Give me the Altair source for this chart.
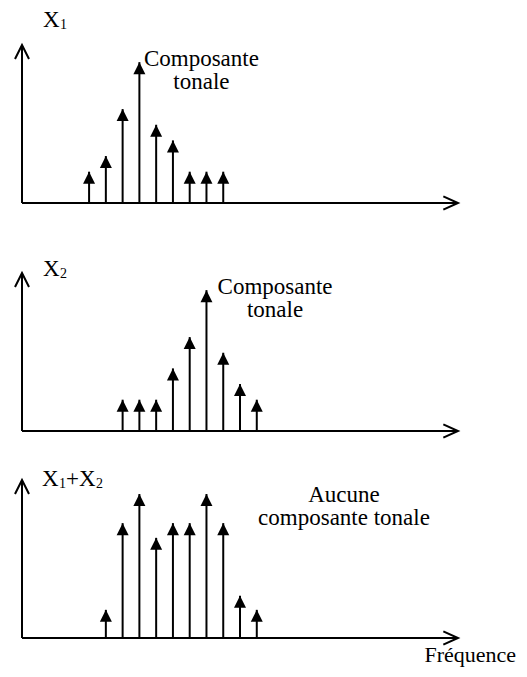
import altair as alt
import pandas as pd

# ---------------- data ----------------
# frequency bin index of each spectral line, and its amplitude (relative units)
X1_K = [4, 5, 6, 7, 8, 9, 10, 11, 12]
X1_A = [1.0, 1.5, 3.0, 4.5, 2.5, 2.0, 1.0, 1.0, 1.0]

X2_K = [6, 7, 8, 9, 10, 11, 12, 13, 14]
X2_A = [1.0, 1.0, 1.0, 2.0, 3.0, 4.5, 2.5, 1.5, 1.0]

SUM_K = [5, 6, 7, 8, 9, 10, 11, 12, 13, 14]
SUM_A = [0.9, 3.67, 4.6, 3.2, 3.67, 3.67, 4.6, 3.67, 1.35, 0.9]

PANELS = ["X1", "X2", "X1+X2"]
AXIS_END_K = 26      # length of the frequency axis (bins)
AXIS_TOP_A = 5.05    # length of the amplitude axis (units)

# ---------------- layout ----------------
W, H = 511, 661            # whole chart (padding 0)
PX_PER_K = 16.77           # horizontal pixels per frequency bin
PX_PER_A = 31.3            # vertical pixels per amplitude unit
ORIGIN_X_PX = 14           # y axis position from left edge
BASELINE_PX = [195, 423, 630]  # baselines of the three panels from top
OFFSET = {p: (H - b) / PX_PER_A for p, b in zip(PANELS, BASELINE_PX)}

xs = alt.Scale(domain=[-ORIGIN_X_PX / PX_PER_K, (W - ORIGIN_X_PX) / PX_PER_K], nice=False, zero=False)
ys = alt.Scale(domain=[0, H / PX_PER_A], nice=False, zero=False)

rows = []
for p, ks, As in zip(PANELS, [X1_K, X2_K, SUM_K], [X1_A, X2_A, SUM_A]):
    for k, a in zip(ks, As):
        rows.append({"panel": p, "k": k, "base": OFFSET[p], "top": OFFSET[p] + a})
lines = pd.DataFrame(rows)

axes = pd.DataFrame([
    {"panel": p, "x0": 0, "x1": AXIS_END_K, "base": OFFSET[p], "top": OFFSET[p] + AXIS_TOP_A}
    for p in PANELS
])

# annotations (position in bins / amplitude units relative to each panel's baseline)
single = pd.DataFrame([
    {"panel": "X1", "k": 1.25, "a": 5.62, "t": "X", "s": 23},
    {"panel": "X1", "k": 2.27, "a": 5.56, "t": "1", "s": 14},
    {"panel": "X2", "k": 1.25, "a": 4.95, "t": "X", "s": 23},
    {"panel": "X2", "k": 2.27, "a": 4.89, "t": "2", "s": 14},
    {"panel": "X1+X2", "k": 1.19, "a": 4.86, "t": "X", "s": 23},
    {"panel": "X1+X2", "k": 2.21, "a": 4.79, "t": "1", "s": 14},
    {"panel": "X1+X2", "k": 2.62, "a": 4.86, "t": "+", "s": 23},
    {"panel": "X1+X2", "k": 3.40, "a": 4.86, "t": "X", "s": 23},
    {"panel": "X1+X2", "k": 4.41, "a": 4.79, "t": "2", "s": 14},
    {"panel": "X1+X2", "k": 24.0, "a": -0.78, "t": "Fréquence", "s": 22},
])
single["y"] = single["panel"].map(OFFSET) + single["a"]

multi = pd.DataFrame([
    {"panel": "X1", "k": 10.7, "a": 4.38, "t": "Composante\ntonale"},
    {"panel": "X2", "k": 15.09, "a": 4.37, "t": "Composante\ntonale"},
    {"panel": "X1+X2", "k": 19.2, "a": 4.35, "t": "Aucune\ncomposante tonale"},
])
multi["y"] = multi["panel"].map(OFFSET) + multi["a"]

FONT = '"Liberation Serif", "Times New Roman", serif'
TRI = "M 0 0 L 1 2 L -1 2 Z"
UP_CHEV = "M -1 2 L 0 0 L 1 2"
RIGHT_CHEV = "M -2.1 -0.95 L 0 0 L -2.1 0.95"

stems = alt.Chart(lines).mark_rule(color="black", strokeWidth=2).encode(
    x=alt.X("k:Q", scale=xs, axis=None),
    y=alt.Y("base:Q", scale=ys, axis=None),
    y2="top:Q",
)
heads = alt.Chart(lines).mark_point(
    shape=TRI, filled=True, size=144, color="black", opacity=1, strokeWidth=0
).encode(
    x=alt.X("k:Q", scale=xs, axis=None),
    y=alt.Y("top:Q", scale=ys, axis=None),
)

xaxis = alt.Chart(axes).mark_rule(color="black", strokeWidth=2).encode(
    x=alt.X("x0:Q", scale=xs, axis=None),
    x2="x1:Q",
    y=alt.Y("base:Q", scale=ys, axis=None),
)
yaxis = alt.Chart(axes).mark_rule(color="black", strokeWidth=2).encode(
    x=alt.X("x0:Q", scale=xs, axis=None),
    y=alt.Y("base:Q", scale=ys, axis=None),
    y2="top:Q",
)
ychev = alt.Chart(axes).mark_point(
    shape=UP_CHEV, filled=False, size=196, color="black", opacity=1, strokeWidth=2
).encode(
    x=alt.X("x0:Q", scale=xs, axis=None),
    y=alt.Y("top:Q", scale=ys, axis=None),
)
xchev = alt.Chart(axes).mark_point(
    shape=RIGHT_CHEV, filled=False, size=196, color="black", opacity=1, strokeWidth=2
).encode(
    x=alt.X("x1:Q", scale=xs, axis=None),
    y=alt.Y("base:Q", scale=ys, axis=None),
)

labels = alt.Chart(single).mark_text(
    align="left", baseline="alphabetic", font=FONT, color="black"
).encode(
    x=alt.X("k:Q", scale=xs, axis=None),
    y=alt.Y("y:Q", scale=ys, axis=None),
    text="t:N",
    size=alt.Size("s:Q", scale=None, legend=None),
)
notes = alt.Chart(multi).mark_text(
    align="center", baseline="alphabetic", font=FONT, fontSize=23,
    lineBreak="\n", lineHeight=23, color="black"
).encode(
    x=alt.X("k:Q", scale=xs, axis=None),
    y=alt.Y("y:Q", scale=ys, axis=None),
    text="t:N",
)

chart = alt.layer(xaxis, yaxis, stems, heads, ychev, xchev, labels, notes).properties(
    width=W, height=H, padding=0,
    autosize=alt.AutoSizeParams(type="none"),
).configure_view(stroke=None)

chart.save("out.html", embed_options={"renderer": "svg", "actions": False})
